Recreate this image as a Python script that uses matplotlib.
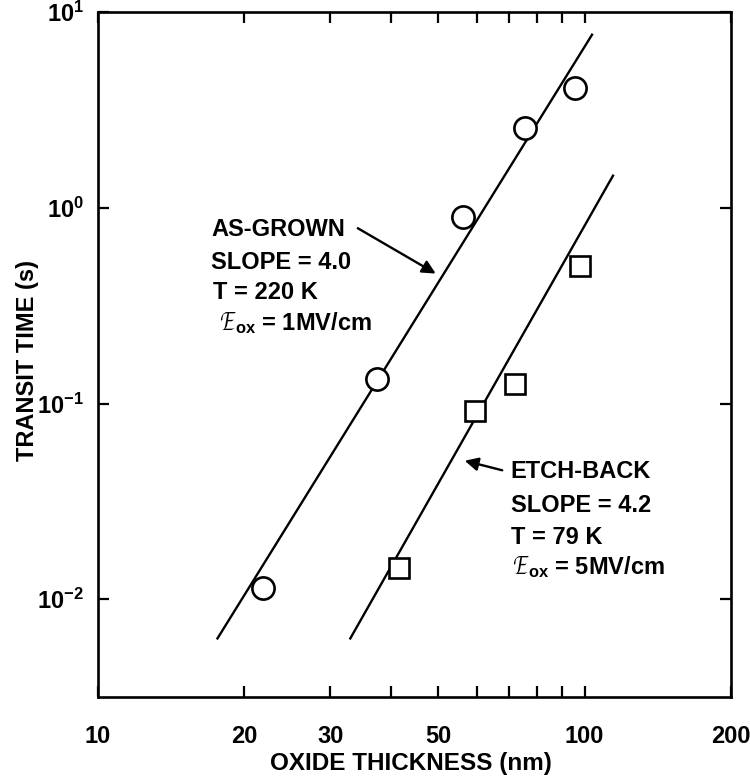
import matplotlib
matplotlib.use("Agg")
import matplotlib.pyplot as plt
from matplotlib.ticker import FixedLocator, FixedFormatter, LogLocator, NullLocator, LogFormatterMathtext

plt.rcParams['font.family'] = ['Liberation Sans', 'DejaVu Sans']
plt.rcParams['font.weight'] = 'bold'
plt.rcParams['axes.labelweight'] = 'bold'
plt.rcParams['mathtext.fontset'] = 'custom'
plt.rcParams['mathtext.rm'] = 'Liberation Sans:bold'
plt.rcParams['mathtext.bf'] = 'Liberation Sans:bold'
plt.rcParams['mathtext.default'] = 'bf'

# 測定点 (as-grown, 円)
grown_x = [21.8, 37.5, 56.3, 75.5, 95.6]
grown_y = [0.0114, 0.133, 0.90, 2.57, 4.11]
# 測定点 (etch-back, 四角)
etch_x = [41.6, 59.6, 71.9, 97.9]
etch_y = [0.0144, 0.0916, 0.126, 0.505]
# フィット直線の両端
grown_fit_x = [17.6, 103.6]
grown_fit_y = [0.0063, 7.67]
etch_fit_x = [33.0, 114.4]
etch_fit_y = [0.0063, 1.46]

x_ticks = [10, 20, 30, 40, 50, 60, 70, 80, 90, 100, 200]
x_labels = ["10", "20", "30", "", "50", "", "", "", "", "100", "200"]

fig = plt.figure(figsize=(7.5, 7.8), dpi=100)
ax = fig.add_axes([0.1307, 0.1064, 0.844, 0.878])
ax.set_xscale("log")
ax.set_yscale("log")
ax.set_xlim(10, 200)
ax.set_ylim(10 ** -2.5, 10)

ax.plot(grown_fit_x, grown_fit_y, color="black", lw=1.7)
ax.plot(etch_fit_x, etch_fit_y, color="black", lw=1.7)
ax.plot(grown_x, grown_y, "o", ms=16, mfc="white", mec="black", mew=1.9)
ax.plot(etch_x, etch_y, "s", ms=15, mfc="white", mec="black", mew=1.9)

# 軸の目盛り
ax.xaxis.set_major_locator(FixedLocator(x_ticks))
ax.xaxis.set_major_formatter(FixedFormatter(x_labels))
ax.xaxis.set_minor_locator(NullLocator())
ax.yaxis.set_major_locator(LogLocator(base=10, numticks=10))
ax.yaxis.set_major_formatter(LogFormatterMathtext())
ax.yaxis.set_minor_locator(NullLocator())
ax.tick_params(direction="in", top=True, right=True, width=1.6, length=8, labelsize=17)
ax.tick_params(axis="x", pad=20)
ax.tick_params(axis="y", pad=10)
for s in ax.spines.values():
    s.set_linewidth(1.9)

ax.set_xlabel("OXIDE THICKNESS (nm)", fontsize=17.5, fontweight="bold", va="center")
ax.xaxis.set_label_coords(0.495, -0.097)
ax.set_ylabel("TRANSIT TIME (s)", fontsize=17, fontweight="bold", va="center")
ax.yaxis.set_label_coords(-0.112, 0.492)

# 注記
tk = dict(transform=ax.transAxes, fontsize=17, va="center")
ax.annotate("", xy=(50.0, 0.454), xytext=(33.8, 0.80),
            arrowprops=dict(arrowstyle="-|>", color="black", lw=1.7, mutation_scale=20))
ax.text(0.1785, 0.682, "AS-GROWN", **tk)
ax.text(0.1785, 0.635, "SLOPE = 4.0", **tk)
ax.text(0.182, 0.590, "T = 220 K", **tk)
ax.text(0.193, 0.546, r"$\mathcal{E}_{\rm ox}$ = 1MV/cm", **tk)

ax.annotate("", xy=(56.0, 0.0514), xytext=(68.6, 0.0452),
            arrowprops=dict(arrowstyle="-|>", color="black", lw=1.7, mutation_scale=20))
ax.text(0.652, 0.330, "ETCH-BACK", **tk)
ax.text(0.652, 0.280, "SLOPE = 4.2", **tk)
ax.text(0.652, 0.2336, "T = 79 K", **tk)
ax.text(0.656, 0.190, r"$\mathcal{E}_{\rm ox}$ = 5MV/cm", **tk)

fig.savefig("out.png", dpi=100)
